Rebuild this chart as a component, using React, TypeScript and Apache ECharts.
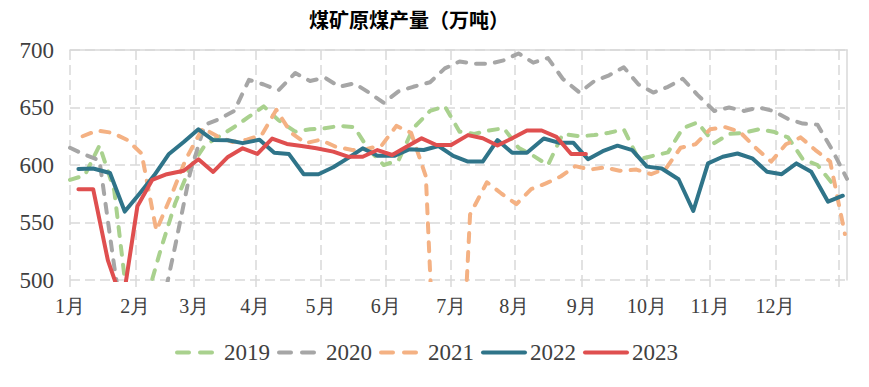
import React, { useEffect, useRef } from 'react';
import * as echarts from 'echarts';

const TITLE = '煤矿原煤产量（万吨）';
const MONTH_LABELS = ['1月', '2月', '3月', '4月', '5月', '6月', '7月', '8月', '9月', '10月', '11月', '12月', ''];
const MONTH_START_DAY = [0, 31, 59, 88, 119, 150, 181, 211, 243, 274, 304, 335, 365];
const AXIS_DAYS = 370;
const WEEK_DAYS = 7.105;
const Y_MIN = 500;
const Y_MAX = 700;
const Y_STEP = 50;

const YEARS = ['2019', '2020', '2021', '2022', '2023'];
const START_DAY = [0, 0, 5.7, 4.3, 3.8];
const COLORS = ['#A9D18E', '#A6A6A6', '#F4B183', '#2F7489', '#DF4F4F'];
const DASHED = [true, true, true, false, false];

const V2019 = [587, 591, 617, 578, 470, 481, 526, 567, 598, 617, 625, 633, 642, 651, 639, 629, 631, 632, 634, 633,
  613, 600, 604, 632, 647, 651, 629, 627, 630, 632, 615, 608, 600, 627, 625, 626, 628, 631, 605, 608,
  611, 632, 637, 619, 627, 628, 631, 629, 624, 605, 600, 584];
const V2020 = [615, 609, 604, 512, 430, 420, 470, 530, 593, 635, 640, 647, 674, 670, 665, 680, 673, 676, 668, 671,
  663, 654, 664, 668, 672, 684, 690, 688, 688, 691, 697, 689, 693, 675, 663, 673, 678, 685, 670, 663,
  668, 675, 661, 647, 650, 647, 650, 647, 640, 636, 635, 613, 588];
const V2021 = [625, 630, 628, 622, 610, 543, 573, 605, 632, 625, 620, 622, 626, 648, 628, 619, 622, 616, 613, 614,
  617, 634, 628, 590, 300, 300, 557, 585, 575, 566, 579, 584, 590, 599, 596, 598, 595, 596, 592, 597,
  615, 618, 631, 633, 629, 616, 603, 618, 624, 613, 603, 540];
const V2022 = [596.5, 597, 593, 559.5, 575, 591, 609.6, 620, 631, 621.7, 621.5, 619, 622, 610.7, 609.5, 592, 592, 598, 606, 614.5,
  608, 608, 613.6, 613, 616.5, 608, 603, 603, 621.7, 610.7, 610.7, 623, 619.4, 619.4, 605, 612, 616.8, 613, 598.6, 597,
  587.6, 560, 601.4, 607.2, 610, 605.8, 594.2, 592, 601.4, 594.2, 568.1, 573.3];
const V2023 = [579, 579, 517, 480, 564, 587, 592, 595, 605, 594, 607, 614.5, 609.6, 623, 618.3, 616.5, 614.5, 611.6, 607.2, 607.2,
  613, 608.7, 616, 623.2, 617.4, 617.4, 626, 623.2, 617, 623.2, 630, 630, 624.5, 609.6, 609.6];
const VALUES = [V2019, V2020, V2021, V2022, V2023];

const GRID_COLOR = '#D9D9D9';
const TEXT_COLOR = '#404040';
const SERIF = 'Liberation Serif';

export default function App() {
  const ref = useRef<HTMLDivElement>(null);

  useEffect(() => {
    if (!ref.current) return;
    const chart = echarts.init(ref.current, undefined, { renderer: 'svg' });

    const xData = Array.from({ length: AXIS_DAYS }, (_, i) => {
      const m = MONTH_START_DAY.indexOf(i);
      return m >= 0 ? MONTH_LABELS[m] : '';
    });
    const isMonth = (i: number) => MONTH_START_DAY.indexOf(i) >= 0;

    const series = YEARS.map((name, s) => ({
      name,
      type: 'line',
      xAxisIndex: 0,
      yAxisIndex: 0,
      data: VALUES[s].map((v, k) => [Math.round(START_DAY[s] + k * WEEK_DAYS), v]),
      symbol: 'circle',
      showSymbol: false,
      clip: true,
      z: 2 + s,
      lineStyle: {
        color: COLORS[s],
        width: 4,
        type: DASHED[s] ? [9, 10] : 'solid',
        cap: 'round',
        join: 'round',
      },
      itemStyle: { color: COLORS[s] },
      emphasis: { disabled: true },
    }));

    const legendData = YEARS.map((name, s) => ({
      name,
      lineStyle: DASHED[s] ? { width: 4, type: [12, 11], cap: 'round' } : { width: 4, cap: 'round' },
    }));

    chart.setOption({
      animation: false,
      textStyle: { fontFamily: SERIF },
      title: {
        text: TITLE,
        left: 409,
        top: 9,
        textAlign: 'center',
        padding: 0,
        textStyle: {
          fontSize: 20,
          fontWeight: 'bold',
          color: '#000',
          fontFamily: 'Noto Sans CJK SC',
        },
      },
      legend: {
        data: legendData,
        left: 175,
        top: 341,
        padding: 0,
        itemWidth: 42,
        itemHeight: 14,
        itemGap: 7,
        itemStyle: { opacity: 0 },
        lineStyle: { width: 4 },
        textStyle: { fontSize: 23, color: TEXT_COLOR, fontFamily: SERIF },
      },
      grid: { left: 70, right: 22, top: 50, bottom: 107, containLabel: false },
      xAxis: [
        {
          type: 'category',
          data: xData,
          boundaryGap: false,
          axisLine: { show: false },
          axisTick: {
            show: true,
            interval: (i: number) => isMonth(i),
            length: 7,
            lineStyle: { color: GRID_COLOR, width: 1.5 },
          },
          axisLabel: {
            interval: (i: number) => isMonth(i),
            margin: 16,
            fontSize: 20,
            color: TEXT_COLOR,
            fontFamily: SERIF,
          },
          splitLine: {
            show: true,
            interval: (i: number) => isMonth(i),
            lineStyle: { color: GRID_COLOR, width: 1.5, type: [10, 5] },
          },
        },
        {
          type: 'category',
          data: xData,
          boundaryGap: false,
          position: 'top',
          axisLine: { show: true, onZero: false, lineStyle: { color: GRID_COLOR, width: 1.5 } },
          axisTick: { show: false },
          axisLabel: { show: false },
          splitLine: { show: false },
        },
      ],
      yAxis: [
        {
          type: 'value',
          min: Y_MIN,
          max: Y_MAX,
          interval: Y_STEP,
          axisLine: { show: false },
          axisTick: { show: false },
          axisLabel: { margin: 16, fontSize: 23, color: TEXT_COLOR, fontFamily: SERIF },
          splitLine: { show: true, lineStyle: { color: GRID_COLOR, width: 1.5, type: [10, 5] } },
        },
        {
          type: 'value',
          min: Y_MIN,
          max: Y_MAX,
          interval: Y_STEP,
          position: 'right',
          axisLine: { show: true, onZero: false, lineStyle: { color: GRID_COLOR, width: 1.5 } },
          axisTick: { show: false },
          axisLabel: { show: false },
          splitLine: { show: false },
        },
      ],
      series,
    });

    return () => chart.dispose();
  }, []);

  return (
    <div
      ref={ref}
      style={{ position: 'absolute', left: 0, top: 0, width: 869, height: 387, background: '#fff' }}
    />
  );
}
